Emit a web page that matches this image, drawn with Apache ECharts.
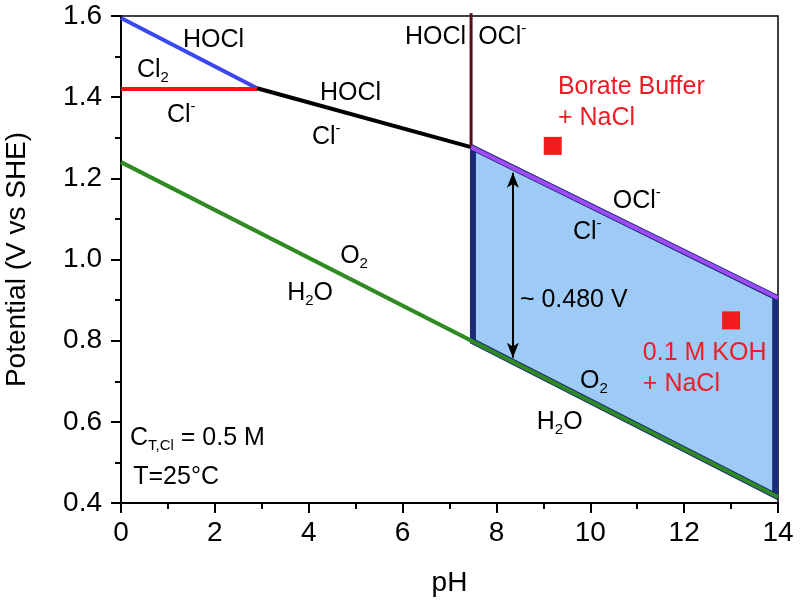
<!DOCTYPE html>
<html><head><meta charset="utf-8">
<script src="https://cdn.jsdelivr.net/npm/echarts@6/dist/echarts.min.js"></script>
<style>html,body{margin:0;padding:0;background:#fff}#c{width:800px;height:603px}</style>
</head><body><div id="c"></div>
<script>
// Boundary lines [pH, potential]
const hoclCl2 = [[0, 1.595], [2.9, 1.422]];
const cl2Cl = [[0, 1.42], [2.9, 1.42]];
const hoclCl = [[2.9, 1.422], [7.46, 1.277]];
const hoclOcl = [[7.46, 1.277], [7.46, 1.607]];
const oclCl = [[7.46, 1.277], [14, 0.905]];
const o2H2o = [[0, 1.24], [14, 0.415]];
const windowPoly = [[7.5, 1.275], [13.94, 0.908], [13.94, 0.418], [7.5, 0.798]];
const arrowEnds = [[8.35, 1.214], [8.35, 0.758]];
const electrolytes = [[9.2, 1.28], [13.0, 0.85]];
const annotations = [
  { text: 'HOCl', at: [1.32, 1.541] },
  { text: 'Cl{sub|2}', at: [0.34, 1.467] },
  { text: 'Cl{sup|-}', at: [0.98, 1.356] },
  { text: 'HOCl', at: [4.24, 1.410] },
  { text: 'Cl{sup|-}', at: [4.07, 1.302] },
  { text: 'HOCl', at: [6.05, 1.548] },
  { text: 'OCl{sup|-}', at: [7.61, 1.548] },
  { text: 'OCl{sup|-}', at: [10.48, 1.144] },
  { text: 'Cl{sup|-}', at: [9.63, 1.067] },
  { text: '~ 0.480 V', at: [8.50, 0.900] },
  { text: 'O{sub|2}', at: [4.67, 1.008] },
  { text: 'H{sub|2}O', at: [3.54, 0.918] },
  { text: 'O{sub|2}', at: [9.78, 0.700] },
  { text: 'H{sub|2}O', at: [8.86, 0.599] },
  { text: 'Borate Buffer\n+ NaCl', at: [9.31, 1.387], color: '#ee1c24' },
  { text: '0.1 M KOH\n+ NaCl', at: [11.12, 0.730], color: '#ee1c24' },
  { text: 'C{sub|T,Cl} = 0.5 M', at: [0.19, 0.560] },
  { text: 'T=25°C', at: [0.26, 0.463] }
];

const FONT = '"Liberation Sans", Arial, Helvetica, sans-serif';
function lineSeries(data, color, width) {
  return { type: 'line', data: data, showSymbol: false, symbol: 'none', silent: true,
    lineStyle: { color: color, width: width, cap: 'butt' }, z: 3 };
}
const chart = echarts.init(document.getElementById('c'), null, { renderer: 'canvas' });
chart.setOption({
  animation: false,
  backgroundColor: '#fff',
  grid: { left: 121, right: 22, top: 16, bottom: 100, show: true, borderColor: '#000', borderWidth: 1.5,
    backgroundColor: 'transparent', containLabel: false, outerBoundsMode: 'none' },
  xAxis: {
    type: 'value', min: 0, max: 14, interval: 2,
    name: 'pH', nameLocation: 'middle', nameGap: 66,
    nameTextStyle: { fontSize: 28, color: '#000', fontFamily: FONT },
    axisLine: { show: true, onZero: false, lineStyle: { color: '#000', width: 2 } },
    axisTick: { show: true, inside: false, length: 10, lineStyle: { color: '#000', width: 2 } },
    minorTick: { show: true, splitNumber: 2, length: 6, lineStyle: { color: '#000', width: 2 } },
    axisLabel: { fontSize: 28, color: '#000', fontFamily: FONT, margin: 16 },
    splitLine: { show: false }
  },
  yAxis: {
    type: 'value', min: 0.4, max: 1.6, interval: 0.2,
    name: 'Potential (V vs SHE)', nameLocation: 'middle', nameGap: 90,
    nameTextStyle: { fontSize: 28, color: '#000', fontFamily: FONT },
    axisLine: { show: true, onZero: false, lineStyle: { color: '#000', width: 2 } },
    axisTick: { show: true, inside: false, length: 10, lineStyle: { color: '#000', width: 2 } },
    minorTick: { show: true, splitNumber: 2, length: 6, lineStyle: { color: '#000', width: 2 } },
    axisLabel: { fontSize: 28, color: '#000', fontFamily: FONT, margin: 19, formatter: v => v.toFixed(1) },
    splitLine: { show: false }
  },
  series: [
    {
      type: 'custom', silent: true, z: 1,
      data: [windowPoly[0]],
      renderItem: (params, api) => ({
        type: 'polygon',
        shape: { points: windowPoly.map(p => api.coord(p)) },
        style: { fill: '#9dcbf6', stroke: '#1b2a7a', lineWidth: 6, lineJoin: 'miter' }
      })
    },
    lineSeries(hoclCl2, '#3a48f2', 4),
    lineSeries(cl2Cl, '#f01414', 4),
    lineSeries(hoclCl, '#000000', 4),
    Object.assign(lineSeries(hoclOcl, '#5a0c14', 3), { clip: false }),
    lineSeries(oclCl, '#a04cf6', 4),
    Object.assign(lineSeries(o2H2o, '#2f8a22', 4), {
      markLine: {
        silent: true, symbol: ['arrow', 'arrow'], symbolSize: [9, 15],
        label: { show: false },
        lineStyle: { color: '#000', width: 2, type: 'solid' },
        data: [[{ coord: arrowEnds[0] }, { coord: arrowEnds[1] }]]
      }
    }),
    {
      type: 'scatter', data: electrolytes, symbol: 'rect', symbolSize: 18,
      itemStyle: { color: '#f21c1c', opacity: 1 }, silent: true, z: 4
    },
    {
      type: 'scatter', symbolSize: 0, silent: true, z: 5,
      itemStyle: { opacity: 1 },
      data: annotations.map(a => {
        const col = a.color || '#000';
        return {
          value: a.at,
          label: {
            show: true, position: 'right', distance: 0,
            formatter: a.text, color: col, fontSize: 25, fontFamily: FONT, lineHeight: 31,
            rich: {
              sup: { fontSize: 15, lineHeight: 15, verticalAlign: 'top', color: col, fontFamily: FONT },
              sub: { fontSize: 15, lineHeight: 13, verticalAlign: 'bottom', color: col, fontFamily: FONT }
            }
          }
        };
      })
    }
  ]
});
</script>
</body></html>
